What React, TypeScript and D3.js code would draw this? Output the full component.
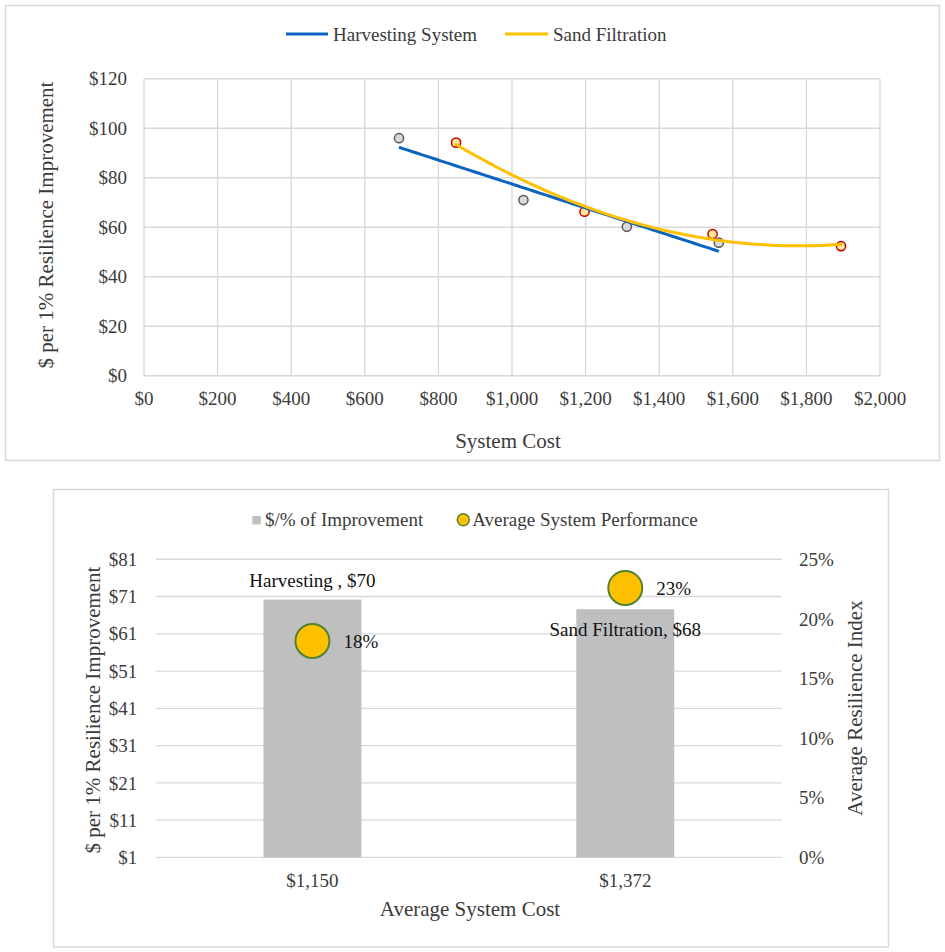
import * as d3 from "d3";

// top chart: cost vs $ per 1% improvement
const harvestCost = [693, 1031, 1312, 1562];
const harvestValue = [96.0, 71.0, 60.2, 53.8];
const sandCost = [848, 1197, 1545, 1894];
const sandValue = [94.2, 66.3, 57.3, 52.4];
const costTicks = [0, 200, 400, 600, 800, 1000, 1200, 1400, 1600, 1800, 2000];
const valueTicks = [0, 20, 40, 60, 80, 100, 120];

// bottom chart: averages per system
const systems = ["Harvesting ", "Sand Filtration"];
const avgCostLabels = ["$1,150", "$1,372"];
const costPerPct = [70.2, 67.6];
const avgIndex = [0.1815, 0.226];
const leftTicks = [1, 11, 21, 31, 41, 51, 61, 71, 81];
const rightTicks = [0, 0.05, 0.1, 0.15, 0.2, 0.25];

const FONT = "'Liberation Serif', 'Times New Roman', serif";
const TEXT = "#3b3b3b";
const GRID = "#d9d9d9";

// least squares line
const linearFit = (xs: number[], ys: number[]) => {
  const mx = d3.mean(xs)!;
  const my = d3.mean(ys)!;
  const sxy = d3.sum(xs, (x, i) => (x - mx) * (ys[i] - my));
  const sxx = d3.sum(xs, (x) => (x - mx) ** 2);
  const b = sxy / sxx;
  return (x: number) => my + b * (x - mx);
};

// least squares 2nd order polynomial
const quadFit = (xs: number[], ys: number[]) => {
  const mx = d3.mean(xs)!;
  const t = xs.map((x) => x - mx);
  const s = (p: number) => d3.sum(t, (v) => v ** p);
  const sy = (p: number) => d3.sum(t, (v, i) => v ** p * ys[i]);
  const A = [
    [t.length, s(1), s(2), sy(0)],
    [s(1), s(2), s(3), sy(1)],
    [s(2), s(3), s(4), sy(2)],
  ];
  for (let c = 0; c < 3; c++) {
    for (let r = c + 1; r < 3; r++) {
      const f = A[r][c] / A[c][c];
      for (let k = c; k < 4; k++) A[r][k] -= f * A[c][k];
    }
  }
  const coef = [0, 0, 0];
  for (let r = 2; r >= 0; r--) {
    let v = A[r][3];
    for (let k = r + 1; k < 3; k++) v -= A[r][k] * coef[k];
    coef[r] = v / A[r][r];
  }
  return (x: number) => coef[0] + coef[1] * (x - mx) + coef[2] * (x - mx) ** 2;
};

const TopChart = () => {
  const x = d3.scaleLinear().domain([0, 2000]).range([144, 880]);
  const y = d3.scaleLinear().domain([0, 120]).range([375.8, 78.8]);
  const dollar = d3.format("$,.0f");

  const harvestFit = linearFit(harvestCost, harvestValue);
  const sandFit = quadFit(sandCost, sandValue);
  const trend = (xs: number[], f: (v: number) => number) => {
    const [a, b] = d3.extent(xs) as [number, number];
    const pts = d3.range(0, 101).map((i) => a + ((b - a) * i) / 100);
    return d3
      .line<number>()
      .x((v) => x(v))
      .y((v) => y(f(v)))
      .curve(d3.curveLinear)(pts)!;
  };

  return (
    <g>
      <rect x={5.5} y={5.5} width={934} height={455} fill="#fff" stroke={GRID} strokeWidth={1.5} />

      {/* legend */}
      <line x1={286} x2={328} y1={34} y2={34} stroke="#0a64c0" strokeWidth={3} />
      <text x={333} y={40.5} fontSize={19} fill={TEXT}>Harvesting System</text>
      <line x1={505} x2={548} y1={34} y2={34} stroke="#ffc000" strokeWidth={3} />
      <text x={553} y={40.5} fontSize={19} fill={TEXT}>Sand Filtration</text>

      {/* grid */}
      {valueTicks.map((v) => (
        <line key={"h" + v} x1={x(0)} x2={x(2000)} y1={y(v)} y2={y(v)} stroke={GRID} strokeWidth={1.4} />
      ))}
      {costTicks.map((v) => (
        <line key={"v" + v} x1={x(v)} x2={x(v)} y1={y(0)} y2={y(120)} stroke={GRID} strokeWidth={1.4} />
      ))}

      {/* tick labels */}
      {valueTicks.map((v) => (
        <text key={"yl" + v} x={127} y={y(v)} dy="0.35em" textAnchor="end" fontSize={19} fill={TEXT}>
          {dollar(v)}
        </text>
      ))}
      {costTicks.map((v) => (
        <text key={"xl" + v} x={x(v)} y={405} textAnchor="middle" fontSize={19} fill={TEXT}>
          {dollar(v)}
        </text>
      ))}

      <text x={508} y={448} textAnchor="middle" fontSize={21} fill={TEXT}>System Cost</text>
      <text transform="translate(46,225) rotate(-90)" dy="0.35em" textAnchor="middle" fontSize={21} fill={TEXT}>
        $ per 1% Resilience Improvement
      </text>

      {/* points */}
      {harvestCost.map((c, i) => (
        <circle key={"hp" + i} cx={x(c)} cy={y(harvestValue[i])} r={4.6} fill="#d9d9d9" stroke="#595959" strokeWidth={1.5} />
      ))}
      {sandCost.map((c, i) => (
        <circle key={"sp" + i} cx={x(c)} cy={y(sandValue[i])} r={4.6} fill="#ffe699" stroke="#c00000" strokeWidth={1.5} />
      ))}

      {/* trendlines */}
      <path d={trend(harvestCost, harvestFit)} fill="none" stroke="#0a64c0" strokeWidth={3} />
      <path d={trend(sandCost, sandFit)} fill="none" stroke="#ffc000" strokeWidth={3} strokeLinecap="round" />
    </g>
  );
};

const BottomChart = () => {
  const yL = d3.scaleLinear().domain([1, 81]).range([857.4, 559.3]);
  const yR = d3.scaleLinear().domain([0, 0.25]).range([857.4, 559.3]);
  const band = d3.scaleBand<string>().domain(systems).range([156, 781.7]);
  const barW = band.bandwidth() * 0.313;
  const dollar = d3.format("$,.0f");
  const pct = d3.format(".0%");
  const center = (s: string) => band(s)! + band.bandwidth() / 2;

  return (
    <g>
      <rect x={53.5} y={489.5} width={835} height={457.5} fill="#fff" stroke={GRID} strokeWidth={1.5} />

      {/* legend */}
      <rect x={252.3} y={516} width={8.4} height={8.4} fill="#bfbfbf" />
      <text x={265} y={526} fontSize={19} fill={TEXT}>$/% of Improvement</text>
      <circle cx={463.3} cy={519.8} r={6} fill="#ffc000" stroke="#548235" strokeWidth={1.5} />
      <text x={472.3} y={526} fontSize={19} fill={TEXT}>Average System Performance</text>

      {/* grid */}
      {leftTicks.map((v) => (
        <line key={"g" + v} x1={156} x2={781.7} y1={yL(v)} y2={yL(v)} stroke={GRID} strokeWidth={1.4} />
      ))}

      {leftTicks.map((v) => (
        <text key={"l" + v} x={137.3} y={yL(v)} dy="0.35em" textAnchor="end" fontSize={19} fill={TEXT}>
          {dollar(v)}
        </text>
      ))}
      {rightTicks.map((v) => (
        <text key={"r" + v} x={799} y={yR(v)} dy="0.35em" textAnchor="start" fontSize={19} fill={TEXT}>
          {pct(v)}
        </text>
      ))}

      {/* bars */}
      {systems.map((s, i) => (
        <rect
          key={"b" + i}
          x={center(s) - barW / 2}
          y={yL(costPerPct[i])}
          width={barW}
          height={yL(1) - yL(costPerPct[i])}
          fill="#bfbfbf"
        />
      ))}

      {/* bar labels: first above the bar, second tucked under the bar top */}
      {systems.map((s, i) => (
        <text
          key={"bl" + i}
          x={center(s)}
          y={i === 0 ? yL(costPerPct[i]) - 13 : yL(costPerPct[i]) + 27}
          textAnchor="middle"
          fontSize={19}
          fill="#111"
        >
          {`${s}, ${dollar(costPerPct[i])}`}
        </text>
      ))}

      {/* performance bubbles */}
      {systems.map((s, i) => (
        <g key={"c" + i}>
          <circle cx={center(s)} cy={yR(avgIndex[i])} r={17} fill="#ffc000" stroke="#548235" strokeWidth={2} />
          <text x={center(s) + 31} y={yR(avgIndex[i]) + 7} fontSize={19} fill="#111">
            {pct(avgIndex[i])}
          </text>
        </g>
      ))}

      {systems.map((s, i) => (
        <text key={"x" + i} x={center(s)} y={886.7} textAnchor="middle" fontSize={19} fill={TEXT}>
          {avgCostLabels[i]}
        </text>
      ))}

      <text x={470} y={916} textAnchor="middle" fontSize={21} fill={TEXT}>Average System Cost</text>
      <text transform="translate(93,710) rotate(-90)" dy="0.35em" textAnchor="middle" fontSize={21} fill={TEXT}>
        $ per 1% Resilience Improvement
      </text>
      <text transform="translate(855,708) rotate(-90)" dy="0.35em" textAnchor="middle" fontSize={21} fill={TEXT}>
        Average Resilience Index
      </text>
    </g>
  );
};

export default function App() {
  return (
    <>
      <style>{`body{margin:0}`}</style>
      <svg width={945} height={952} style={{ display: "block", background: "#fff", fontFamily: FONT }}>
        <TopChart />
        <BottomChart />
      </svg>
    </>
  );
}
